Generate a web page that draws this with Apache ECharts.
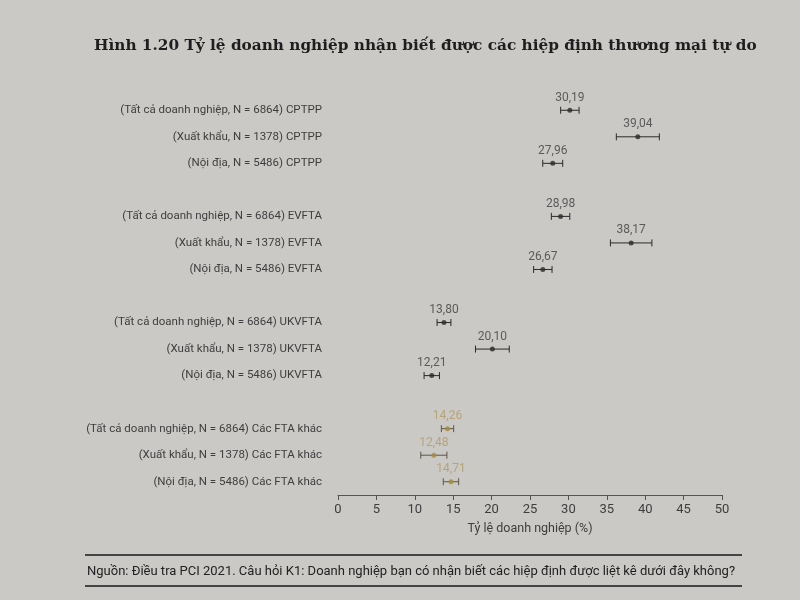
<!DOCTYPE html>
<html>
<head>
<meta charset="utf-8">
<script src="https://cdn.jsdelivr.net/npm/echarts@6/dist/echarts.min.js"></script>
<style>
html,body{margin:0;padding:0;background:#cbc9c6;}
#chart{width:800px;height:600px;}
</style>
</head>
<body>
<div id="chart"></div>
<script>
// ---- data ----
const agreements = ['CPTPP', 'EVFTA', 'UKVFTA', 'Các FTA khác'];
const segments = ['(Tất cả doanh nghiệp, N = 6864)', '(Xuất khẩu, N = 1378)', '(Nội địa, N = 5486)'];
const values = [30.19, 39.04, 27.96, 28.98, 38.17, 26.67, 13.80, 20.10, 12.21, 14.26, 12.48, 14.71];
const errors = [1.2, 2.8, 1.3, 1.2, 2.7, 1.2, 0.9, 2.2, 1.0, 0.8, 1.7, 1.0];
const xTicks = [0, 5, 10, 15, 20, 25, 30, 35, 40, 45, 50];
const titleText = 'Hình 1.20 Tỷ lệ doanh nghiệp nhận biết được các hiệp định thương mại tự do';
const xAxisName = 'Tỷ lệ doanh nghiệp (%)';
const sourceText = 'Nguồn: Điều tra PCI 2021. Câu hỏi K1: Doanh nghiệp bạn có nhận biết các hiệp định được liệt kê dưới đây không?';

// ---- build rows (with blank rows between groups) ----
const yCats = [];
const points = [];
const bars = [];
agreements.forEach((ag, gi) => {
  if (gi > 0) yCats.push(' '.repeat(gi));
  segments.forEach((seg, si) => {
    const k = gi * 3 + si;
    const row = yCats.length;
    yCats.push(seg + ' ' + ag);
    points.push({ value: [values[k], row], group: gi });
    bars.push({ value: [values[k] - errors[k], values[k] + errors[k], row], group: gi });
  });
});

const dark = '#2a2a2a';
const gold = '#a88a3a';
const goldText = '#b39a62';
const textCol = '#3e3e3e';

const chart = echarts.init(document.getElementById('chart'));
chart.setOption({
  backgroundColor: '#cbc9c6',
  animation: false,
  title: {
    text: titleText,
    left: 89, top: 34,
    textStyle: { fontFamily: 'DejaVu Serif', fontWeight: 'bold', fontSize: 15.3, color: '#1e1e1e' }
  },
  grid: { left: 338, right: 78, top: 97, height: 398 },
  xAxis: {
    type: 'value', min: 0, max: 50, interval: 5,
    name: xAxisName, nameLocation: 'middle', nameGap: 27,
    nameTextStyle: { fontFamily: 'Roboto', fontSize: 12.5, color: textCol },
    axisLine: { show: true, lineStyle: { color: '#555', width: 1 } },
    axisTick: { show: true, length: 5, lineStyle: { color: '#555' } },
    axisLabel: { fontFamily: 'Roboto', fontSize: 13, color: textCol, margin: 8,
      formatter: v => xTicks.includes(v) ? String(v) : '' },
    splitLine: { show: false }
  },
  yAxis: {
    type: 'category', data: yCats, inverse: true,
    axisLine: { show: false }, axisTick: { show: false },
    axisLabel: { fontFamily: 'Roboto', fontSize: 11.5, color: textCol, margin: 16 },
    splitLine: { show: false }
  },
  series: [
    {
      type: 'custom',
      data: bars,
      renderItem: function (params, api) {
        const y = api.value(2);
        const p1 = api.coord([api.value(0), y]);
        const p2 = api.coord([api.value(1), y]);
        const h = 3.5;
        const d = bars[params.dataIndex];
        const col = d.group === 3 ? '#5a5648' : dark;
        const st = { stroke: col, lineWidth: 1 };
        return {
          type: 'group',
          children: [
            { type: 'line', shape: { x1: p1[0], y1: p1[1], x2: p2[0], y2: p2[1] }, style: st },
            { type: 'line', shape: { x1: p1[0], y1: p1[1] - h, x2: p1[0], y2: p1[1] + h }, style: st },
            { type: 'line', shape: { x1: p2[0], y1: p2[1] - h, x2: p2[0], y2: p2[1] + h }, style: st }
          ]
        };
      },
      z: 2
    },
    {
      type: 'scatter',
      symbolSize: 5,
      data: points.map(p => ({
        value: p.value,
        itemStyle: { color: p.group === 3 ? gold : dark },
        label: { color: p.group === 3 ? goldText : textCol }
      })),
      label: {
        show: true, position: 'top', distance: 4,
        fontFamily: 'Roboto', fontSize: 12,
        formatter: p => p.value[0].toFixed(2).replace('.', ',')
      },
      z: 3
    }
  ],
  graphic: [
    { type: 'line', shape: { x1: 85, y1: 555, x2: 742, y2: 555 }, style: { stroke: '#444', lineWidth: 2 } },
    { type: 'text', left: 87, top: 565, style: { text: sourceText, fontFamily: 'Roboto', fontSize: 13, fill: '#222' } },
    { type: 'line', shape: { x1: 85, y1: 586, x2: 742, y2: 586 }, style: { stroke: '#444', lineWidth: 2 } }
  ]
});
</script>
</body>
</html>
